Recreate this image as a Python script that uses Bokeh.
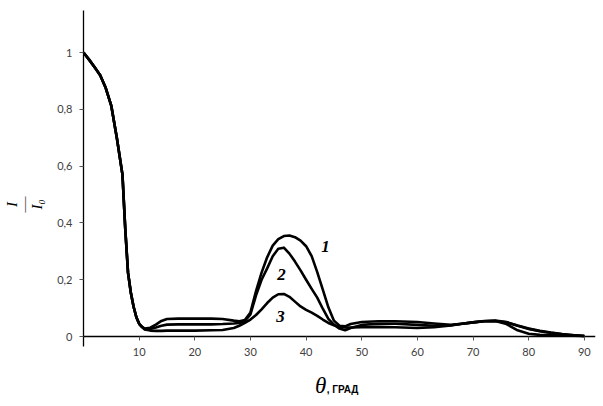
import math
from bokeh.plotting import figure
from bokeh.models import FixedTicker, Label, Range1d, LinearAxis
from bokeh.embed import file_html
from bokeh.resources import INLINE

# ---- data ----
angle = [0, 1, 2, 3, 4, 5, 6, 7, 7.5, 8, 8.5, 9, 9.5, 10, 10.5,
         11, 12, 13, 14, 15, 17, 20, 23, 25, 27, 28, 29, 30, 31, 32,
         33, 34, 35, 36, 37, 38, 39, 40, 41, 42, 43, 44, 45, 46, 47,
         48, 50, 53, 56, 60, 63, 66, 68, 70, 72, 74, 76, 78, 80, 82,
         84, 86, 88, 90]

common_start = [1.000, 0.975, 0.948, 0.920, 0.875, 0.812, 0.698, 0.570, 0.380,
                0.225, 0.155, 0.105, 0.068, 0.045, 0.034]

curve1_tail = [0.028, 0.031, 0.042, 0.055, 0.062, 0.063, 0.063, 0.063, 0.062, 0.056,
               0.054, 0.058, 0.085, 0.160, 0.225, 0.279, 0.320, 0.343, 0.354, 0.356,
               0.350, 0.338, 0.318, 0.283, 0.227, 0.165, 0.103, 0.056, 0.038, 0.036,
               0.044, 0.051, 0.054, 0.054, 0.051, 0.046, 0.041, 0.045, 0.050, 0.055,
               0.056, 0.051, 0.039, 0.028, 0.020, 0.014, 0.009, 0.005, 0.002]

curve2_tail = [0.027, 0.027, 0.032, 0.038, 0.042, 0.043, 0.043, 0.043, 0.044, 0.046,
               0.048, 0.055, 0.078, 0.145, 0.200, 0.240, 0.283, 0.309, 0.313, 0.292,
               0.264, 0.233, 0.200, 0.168, 0.137, 0.098, 0.062, 0.042, 0.028, 0.022,
               0.030, 0.041, 0.045, 0.045, 0.041, 0.038, 0.040, 0.045, 0.050, 0.054,
               0.055, 0.050, 0.038, 0.027, 0.019, 0.013, 0.008, 0.004, 0.002]

curve3_tail = [0.025, 0.021, 0.020, 0.020, 0.021, 0.021, 0.021, 0.022, 0.023, 0.030,
               0.038, 0.048, 0.060, 0.076, 0.096, 0.118, 0.137, 0.149, 0.150, 0.140,
               0.123, 0.106, 0.094, 0.084, 0.073, 0.060, 0.048, 0.040, 0.034, 0.032,
               0.032, 0.033, 0.034, 0.033, 0.030, 0.033, 0.039, 0.045, 0.050, 0.054,
               0.055, 0.044, 0.022, 0.010, 0.006, 0.005, 0.004, 0.003, 0.002]

curve1 = common_start + curve1_tail
curve2 = common_start + curve2_tail
curve3 = common_start + curve3_tail

x_ticks = [10, 20, 30, 40, 50, 60, 70, 80, 90]
y_ticks = [0, 0.2, 0.4, 0.6, 0.8, 1.0]
y_tick_labels = ["0", "0,2", "0,4", "0,6", "0,8", "1"]

curve_names = ["1", "2", "3"]
curve_name_pos_x = [43.5, 35.6, 35.4]
curve_name_pos_y = [0.317, 0.218, 0.070]

# ---- figure ----
p = figure(width=603, height=406, output_backend="svg", toolbar_location=None,
           x_range=Range1d(0, 92), y_range=Range1d(-0.035, 1.148),
           min_border_left=83, min_border_right=8, min_border_top=10,
           min_border_bottom=60, background_fill_color="white",
           border_fill_color="white")
p.outline_line_color = None
p.grid.visible = False

for ys in (curve1, curve2, curve3):
    p.line(angle, ys, line_color="black", line_width=2.6, line_join="round")

# x axis line and ticks drawn at y = 0 (no labels)
xa = p.xaxis[0]
xa.fixed_location = 0
xa.ticker = FixedTicker(ticks=x_ticks, minor_ticks=[])
xa.axis_line_color = "black"
xa.axis_line_width = 1.3
xa.major_tick_out = 4
xa.major_tick_in = 0
xa.major_tick_line_color = "#555555"
xa.minor_tick_line_color = None
xa.major_label_standoff = 0
xa.major_label_overrides = {t: "" for t in x_ticks}
xa.major_label_text_font_size = "0px"

# x tick labels (second axis, below the frame, not clipped)
xl = LinearAxis(ticker=FixedTicker(ticks=x_ticks, minor_ticks=[]))
xl.axis_line_color = None
xl.major_tick_line_color = None
xl.minor_tick_line_color = None
xl.major_tick_out = 0
xl.major_tick_in = 0
xl.major_label_standoff = 1
xl.major_label_text_font = "Lato"
xl.major_label_text_font_size = "11px"
xl.major_label_text_color = "#404040"
p.add_layout(xl, "below")

ya = p.yaxis[0]
ya.ticker = FixedTicker(ticks=y_ticks, minor_ticks=[])
ya.major_label_overrides = {t: s for t, s in zip(y_ticks, y_tick_labels)}
ya.axis_line_color = "black"
ya.axis_line_width = 1.3
ya.major_tick_out = 4
ya.major_tick_in = 0
ya.major_tick_line_color = "#555555"
ya.minor_tick_line_color = None
ya.major_label_standoff = 7
ya.major_label_text_font = "Lato"
ya.major_label_text_font_size = "11px"
ya.major_label_text_color = "#404040"

# curve numbers
for name, cx, cy in zip(curve_names, curve_name_pos_x, curve_name_pos_y):
    p.add_layout(Label(x=cx, y=cy, text=name, text_font="Liberation Serif",
                       text_font_style="bold italic", text_font_size="17px",
                       text_align="center", text_baseline="middle",
                       text_color="black"))

# x axis title (placed in the panel below the frame)
p.add_layout(Label(x=42.6, y=-0.1725, text="\u03b8", text_font="Liberation Serif",
                   text_font_style="italic", text_font_size="23px",
                   text_align="center", text_baseline="middle", text_color="black"),
             "below")
p.add_layout(Label(x=43.7, y=-0.187, text=", ГРАД", text_font="Liberation Sans",
                   text_font_style="bold", text_font_size="10px",
                   text_align="left", text_baseline="middle", text_color="black"),
             "below")

# y axis title: rotated fraction I / I0 (panel left of the axis)
p.add_layout(Label(x=-12.8, y=0.465, text="I", angle=math.pi / 2,
                   text_font="Liberation Serif", text_font_style="italic",
                   text_font_size="15px", text_align="center",
                   text_baseline="middle", text_color="black"), "left")
p.add_layout(Label(x=-10.8, y=0.465, text="\u2014", angle=math.pi / 2,
                   text_font="Liberation Serif", text_font_size="16px",
                   text_align="center", text_baseline="middle", text_color="#555555"),
             "left")
p.add_layout(Label(x=-8.4, y=0.465, text="I\u2080", angle=math.pi / 2,
                   text_font="Liberation Serif", text_font_style="italic",
                   text_font_size="15px", text_align="center",
                   text_baseline="middle", text_color="black"), "left")

open("out.html", "w").write(file_html(p, INLINE))
